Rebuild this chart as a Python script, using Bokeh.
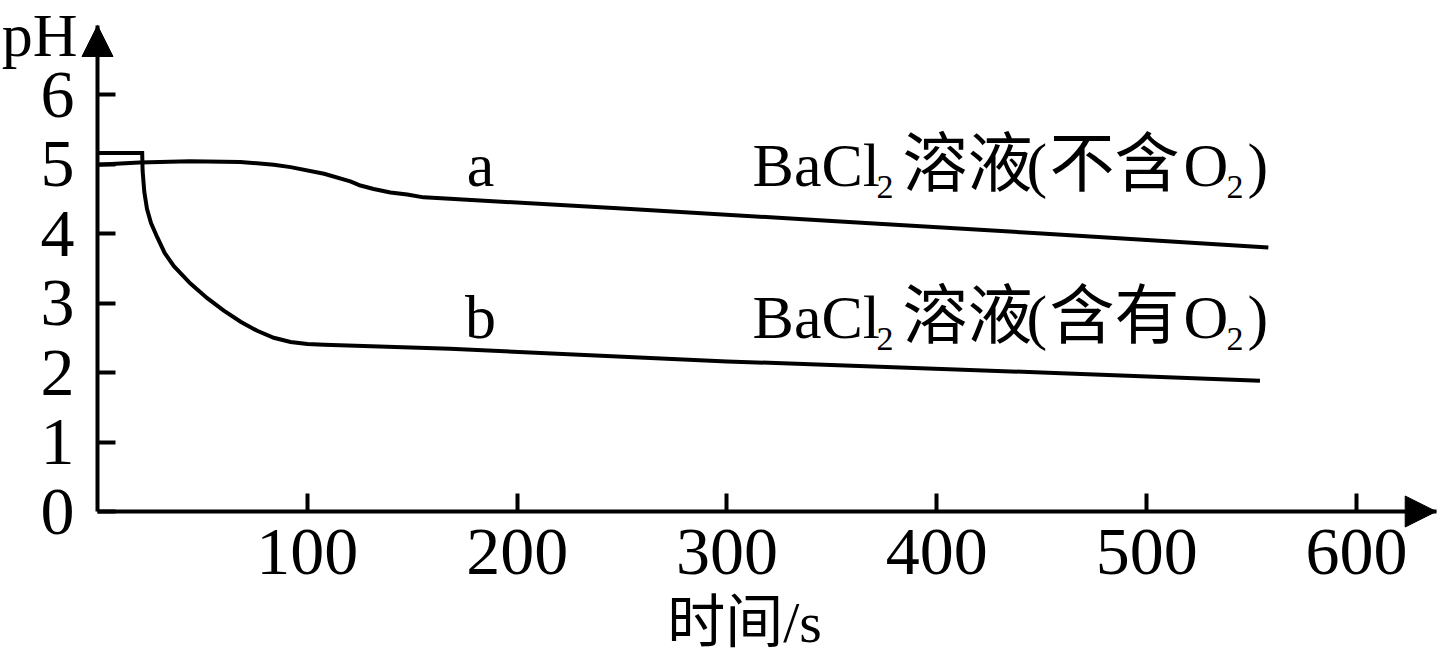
from bokeh.plotting import figure
from bokeh.models import Range1d, Arrow, NormalHead, Label, FixedTicker
from bokeh.embed import file_html
from bokeh.resources import INLINE

# ---- data ----
t_a = [0, 20, 44, 68, 84, 92, 108, 120.5, 125.3, 131.6, 139.6, 147.6, 155.4, 168, 250, 350, 450, 558]
ph_a = [4.99, 5.02, 5.04, 5.03, 4.99, 4.955, 4.86, 4.75, 4.69, 4.64, 4.59, 4.56, 4.52, 4.50, 4.36, 4.18, 4.00, 3.80]

t_b = [0, 21.3, 21.5, 22.3, 23.6, 25.5, 28.4, 32, 36.4, 44.3, 52.3, 60.2, 68.2, 76.1, 84, 92, 100, 108, 168, 300, 450, 554]
ph_b = [5.16, 5.16, 4.90, 4.60, 4.35, 4.15, 3.95, 3.72, 3.53, 3.28, 3.07, 2.89, 2.73, 2.60, 2.50, 2.44, 2.41, 2.40, 2.34, 2.16, 2.00, 1.88]

x_ticks = [100, 200, 300, 400, 500, 600]
y_ticks = [0, 1, 2, 3, 4, 5, 6]

curve_names = ["a", "b"]
curve_name_pos = [(182.5, 4.69), (182.5, 2.50)]          # (t, pH of text baseline)
legend_texts = [["BaCl", "2", "溶液", "(", "不含", "O", "2", ")"],
                ["BaCl", "2", "溶液", "(", "含有", "O", "2", ")"]]
legend_pos = [(312.2, 4.69), (312.2, 2.50)]              # (t, pH of text baseline)

x_label = "时间/s"
y_label = "pH"

X_TIP = 638.0
Y_TIP = 6.993

# ---- layout (pixels) ----
W, H = 1437, 655
X0_PX, Y0_PX = 97.0, 511.0
PX_T = 2.0983      # px per second
PX_PH = 69.5       # px per pH unit

FONT = "'Liberation Serif', 'Noto Sans CJK SC'"
MID = 0.337        # label text is centred on its box: baseline = anchor + MID*size

piece_dx = [0, 124, 150, 274, 297, 431, 474, 495]
piece_size = [62, 34, 65, 62, 65, 62, 34, 62]
piece_drop = [0, 13, 0, 0, 0, 0, 13, 0]

p = figure(width=W, height=H, output_backend="svg", toolbar_location=None,
           x_range=Range1d(-X0_PX / PX_T, (W - X0_PX) / PX_T),
           y_range=Range1d(-(H - Y0_PX) / PX_PH, Y0_PX / PX_PH),
           min_border_left=0, min_border_right=0, min_border_top=0, min_border_bottom=0)
p.outline_line_color = None
p.grid.visible = False

for ax in p.axis:
    ax.fixed_location = 0
    ax.axis_line_width = 4
    ax.axis_line_color = "black"
    ax.major_tick_line_width = 4
    ax.major_tick_line_color = "black"
    ax.major_tick_in = 18
    ax.major_tick_out = 0
    ax.minor_tick_line_color = None
    ax.major_label_text_font = "Liberation Serif"
    ax.major_label_text_font_size = "68px"
    ax.major_label_text_color = "black"

p.xaxis.bounds = (0, X_TIP)
p.yaxis.bounds = (0, Y_TIP)
p.xaxis.ticker = FixedTicker(ticks=x_ticks)
p.yaxis.ticker = FixedTicker(ticks=y_ticks)
p.xaxis.major_label_standoff = 18
p.yaxis.major_label_standoff = 23

p.line(t_a, ph_a, line_width=4, color="black", line_join="round")
p.line(t_b, ph_b, line_width=4, color="black", line_join="miter")

for xe, ye in [(X_TIP, 0), (0, Y_TIP)]:
    p.add_layout(Arrow(end=NormalHead(size=31, fill_color="black", line_color="black", line_width=1),
                       x_start=0, y_start=0, x_end=xe, y_end=ye, line_width=0, line_color="black"))


def anchor_y(base_ph, size, drop_px=0):
    return base_ph - (drop_px - MID * size) / PX_PH


def add_text(x, base_ph, text, size, align="left", drop_px=0):
    p.add_layout(Label(x=x, y=anchor_y(base_ph, size, drop_px), text=text, text_align=align,
                       text_baseline="alphabetic", text_font=FONT,
                       text_font_size=f"{size}px", text_color="black"))


# axis titles
add_text((77 - X0_PX) / PX_T, (Y0_PX - 55) / PX_PH, y_label, 62, align="right")
add_text((744 - X0_PX) / PX_T, (Y0_PX - 642) / PX_PH, x_label, 58, align="center")

# curve names
for name, (tx, ty) in zip(curve_names, curve_name_pos):
    add_text(tx, ty, name, 62, align="center")

# legend-like texts with subscripts
for pieces, (tx, ty) in zip(legend_texts, legend_pos):
    for piece, dx, size, drop in zip(pieces, piece_dx, piece_size, piece_drop):
        add_text(tx + dx / PX_T, ty, piece, size, drop_px=drop)

open("out.html", "w").write(file_html(p, INLINE))
